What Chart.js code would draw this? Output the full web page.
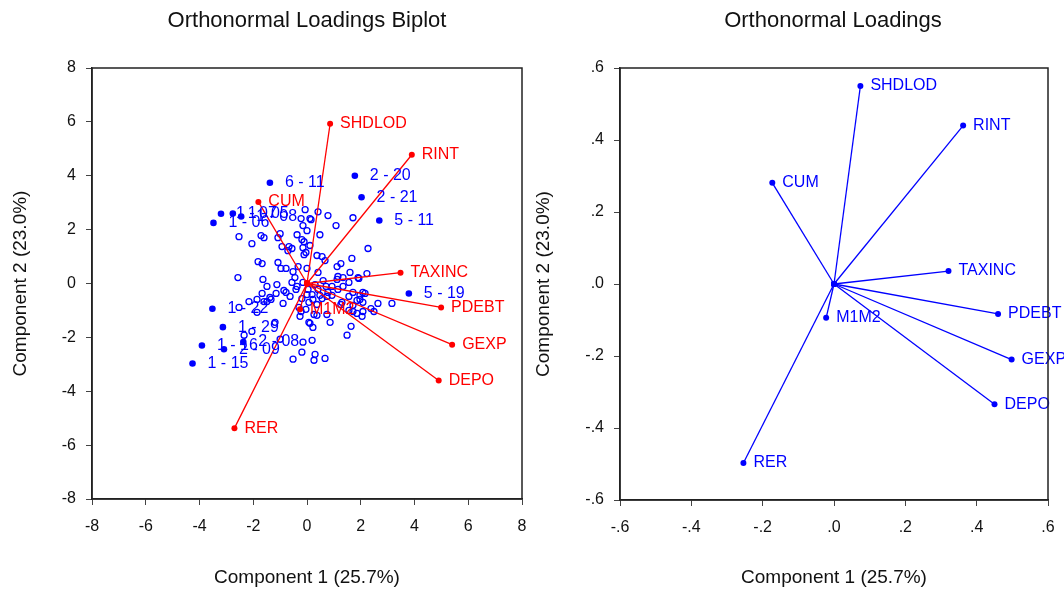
<!DOCTYPE html>
<html>
<head>
<meta charset="utf-8">
<script src="https://cdn.jsdelivr.net/npm/chart.js@4.4.1/dist/chart.umd.min.js"></script>
<style>
  body { margin: 0; background: #fff; font-family: "Liberation Sans", Arial, sans-serif; }
  #wrap { position: relative; width: 1064px; height: 592px; overflow: hidden; }
  canvas { position: absolute; top: 0; }
  .ttl { position: absolute; top: 7px; font-size: 22px; color: #111; transform: translateX(-50%); white-space: nowrap; }
</style>
</head>
<body>
<div id="wrap">
  <canvas id="biplot" width="532" height="592" style="left:0px"></canvas>
  <canvas id="loadings" width="532" height="592" style="left:532px"></canvas>
  <div class="ttl" style="left:307px">Orthonormal Loadings Biplot</div>
  <div class="ttl" style="left:833px">Orthonormal Loadings</div>
</div>
<script>
// observations (component scores), open circles
var obsX = [-0.07, 0.11, -0.22, -0.15, 0.00, -2.53, -1.71, -1.60, -1.00, -1.08, -0.37, -0.19, -0.11, -2.05, -0.93,
  -0.67, -0.56, -0.71, -0.15, -0.11, -0.04, -1.82, -1.67, -1.08, -0.97, -0.78, -0.33, 0.00, -0.52, -2.57,
  -1.64, 0.41, 0.78, 0.15, 1.08, 1.71, 0.48, 0.11, 2.27, 0.37, 0.56, 0.67, 1.67, 1.26, 1.12,
  1.60, 2.23, 0.41, 1.15, 1.34, 1.90, -0.45, -1.49, -1.12, -1.67, -1.38, -1.15, -0.86, -0.78, -0.37,
  -2.16, -1.86, -1.60, -1.49, -1.34, -0.89, -2.53, -1.86, -0.30, -0.22, -0.26, -1.19, -2.34, -2.05, -1.00,
  -0.52, -0.19, -0.15, 0.07, 1.12, 1.56, 1.93, 0.60, -0.15, 0.30, 0.04, 0.71, 0.93, 1.15, 1.34,
  0.41, 0.78, 1.71, 2.08, 2.16, 0.00, 0.19, 0.48, 0.74, 0.93, 1.56, 1.97, -0.19, 0.22, 0.56,
  1.97, 1.86, 2.08, 2.64, 3.16, 0.07, 0.37, 1.30, 1.26, 1.71, 1.56, 1.71, 1.86, 2.08, 2.38,
  2.49, 2.05, -0.04, 0.26, 0.37, 0.74, 0.86, 0.11, 0.22, 1.64, 1.49, 0.19, 0.30, 0.26, 0.67,
  -0.56, -0.41, -0.63];
var obsY = [2.74, 2.41, 2.41, 2.15, 1.96, 1.74, 1.78, 1.70, 1.85, 1.70, 1.81, 1.63, 1.55, 1.48, 1.37,
  1.37, 1.30, 1.22, 1.33, 1.07, 1.15, 0.81, 0.74, 0.78, 0.56, 0.56, 0.63, 0.56, 0.44, 0.22,
  0.15, 2.66, 2.52, 2.37, 2.15, 2.44, 1.81, 1.41, 1.30, 1.04, 1.00, 0.85, 0.93, 0.74, 0.63,
  0.41, 0.37, 0.41, 0.26, 0.22, 0.22, 0.22, -0.11, -0.04, -0.37, -0.52, -0.37, -0.26, -0.33, -0.11,
  -0.67, -0.59, -0.67, -0.67, -0.59, -0.74, -0.89, -1.07, -0.89, -1.04, -1.22, -1.44, -1.92, -1.78, -2.07,
  -2.81, -2.55, -2.18, -1.44, 0.15, 0.04, 0.19, 0.11, 0.04, -0.04, -0.22, -0.11, -0.11, -0.22, -0.11,
  -0.22, -0.33, -0.33, -0.33, -0.37, -0.41, -0.41, -0.44, -0.48, -0.44, -0.48, -0.44, -0.56, -0.59, -0.56,
  -0.59, -0.63, -0.70, -0.74, -0.74, -0.70, -0.78, -0.70, -0.78, -0.81, -1.00, -1.04, -1.11, -1.04, -0.93,
  -1.04, -1.22, -0.96, -1.15, -1.18, -1.15, -1.44, -1.48, -1.63, -1.59, -1.92, -2.11, -2.63, -2.85, -2.78,
  0.04, -0.22, -0.48];

// labelled observations, filled circles
var markNames = ['6 - 11', '2 - 20', '2 - 21', '5 - 11', '5 - 19', '1 - 07', '1 - 05', '1 - 08', '1 - 06',
  '1 - 22', '1 - 29', '1 - 16', '2 - 09', '1 - 15', '2 - 08'];
var markX = [-1.38, 1.78, 2.03, 2.69, 3.79, -3.20, -2.76, -2.45, -3.48, -3.52, -3.13, -3.91, -3.09, -4.26, -2.37];
var markY = [3.74, 4.00, 3.20, 2.34, -0.37, 2.59, 2.60, 2.49, 2.25, -0.94, -1.62, -2.30, -2.44, -2.97, -2.17];

// variables
var varNames = ['SHDLOD', 'RINT', 'CUM', 'TAXINC', 'PDEBT', 'GEXP', 'DEPO', 'RER', 'M1M2'];
var biplotX = [0.86, 3.90, -1.81, 3.48, 4.99, 5.40, 4.90, -2.70, -0.26];
var biplotY = [5.93, 4.78, 3.03, 0.40, -0.89, -2.27, -3.60, -5.37, -0.96];
var loadX = [0.074, 0.362, -0.173, 0.321, 0.460, 0.498, 0.450, -0.254, -0.022];
var loadY = [0.550, 0.440, 0.281, 0.036, -0.083, -0.210, -0.334, -0.497, -0.094];

var xTitle = 'Component 1 (25.7%)';
var yTitle = 'Component 2 (23.0%)';

var FONT = '"Liberation Sans", Arial, sans-serif';
var BLUE = '#0000ff';
var RED = '#ff0000';

// frame round the plot area
var framePlugin = {
  id: 'frame',
  afterDraw: function (chart) {
    var a = chart.chartArea, c = chart.ctx;
    c.save();
    c.strokeStyle = '#222';
    c.lineWidth = 1.5;
    c.strokeRect(a.left, a.top, a.right - a.left, a.bottom - a.top);
    c.restore();
  }
};

// text labels next to points
function labelPlugin(groups) {
  return {
    id: 'ptlabels',
    afterDatasetsDraw: function (chart) {
      var c = chart.ctx, sx = chart.scales.x, sy = chart.scales.y;
      c.save();
      c.font = '16px ' + FONT;
      c.textBaseline = 'middle';
      c.textAlign = 'left';
      groups.forEach(function (g) {
        c.fillStyle = g.color;
        g.names.forEach(function (n, i) {
          c.fillText(n, sx.getPixelForValue(g.x[i]) + g.dx, sy.getPixelForValue(g.y[i]));
        });
      });
      c.restore();
    }
  };
}

function axis(min, max, step, fmt, isY, yTitlePad, boxSize) {
  return {
    type: 'linear',
    min: min,
    max: max,
    position: isY ? 'left' : 'bottom',
    ticks: {
      stepSize: step,
      color: '#111',
      font: { family: FONT, size: 16 },
      padding: isY ? 10 : 12,
      maxRotation: 0,
      callback: fmt
    },
    grid: { drawOnChartArea: false, drawTicks: true, tickLength: 6, color: '#444', lineWidth: 1 },
    border: { display: true, color: '#222', width: 1.5 },
    title: {
      display: true,
      text: isY ? yTitle : xTitle,
      color: '#111',
      font: { family: FONT, size: 19 },
      padding: isY ? { top: yTitlePad, bottom: 0 } : { top: 0, bottom: 3 }
    },
    afterFit: function (s) {
      if (isY) {
        s.width = boxSize;
      } else {
        s.height = boxSize;
        s.paddingLeft = 0;
        s.paddingRight = 0;
      }
    }
  };
}

function vectorSets(xs, ys, color) {
  return varNames.map(function (n, i) {
    return {
      label: n,
      data: [{ x: 0, y: 0 }, { x: xs[i], y: ys[i] }],
      showLine: true,
      borderColor: color,
      backgroundColor: color,
      borderWidth: 1.3,
      pointRadius: 3,
      pointBorderWidth: 0,
      order: 1
    };
  });
}

var intFmt = function (v) { return String(Math.round(v)); };
var decFmt = function (v) {
  var r = Math.round(v * 10) / 10;
  return r.toFixed(1).replace('0.', '.');
};

var obsPoints = obsX.map(function (x, i) { return { x: x, y: obsY[i] }; });
var markPoints = markX.map(function (x, i) { return { x: x, y: markY[i] }; });

new Chart(document.getElementById('biplot'), {
  type: 'scatter',
  data: {
    datasets: [{
      label: 'obs',
      data: obsPoints,
      pointRadius: 3,
      pointBorderWidth: 1.3,
      pointBorderColor: BLUE,
      pointBackgroundColor: 'rgba(255,255,255,0)',
      order: 2
    }, {
      label: 'marked',
      data: markPoints,
      pointRadius: 3.3,
      pointBorderWidth: 0,
      pointBackgroundColor: BLUE,
      order: 2
    }].concat(vectorSets(biplotX, biplotY, RED))
  },
  options: {
    responsive: false,
    animation: false,
    devicePixelRatio: 1,
    layout: { padding: { top: 68, right: 10, left: 0, bottom: 0 } },
    plugins: { legend: { display: false }, tooltip: { enabled: false } },
    scales: {
      x: axis(-8, 8, 2, intFmt, false, 0, 93),
      y: axis(-8, 8, 2, intFmt, true, 9, 92)
    }
  },
  plugins: [framePlugin, labelPlugin([
    { names: varNames, x: biplotX, y: biplotY, color: RED, dx: 10 },
    { names: markNames, x: markX, y: markY, color: BLUE, dx: 15 }
  ])]
});

new Chart(document.getElementById('loadings'), {
  type: 'scatter',
  data: { datasets: vectorSets(loadX, loadY, BLUE) },
  options: {
    responsive: false,
    animation: false,
    devicePixelRatio: 1,
    layout: { padding: { top: 68, right: 16, left: 0, bottom: 0 } },
    plugins: { legend: { display: false }, tooltip: { enabled: false } },
    scales: {
      x: axis(-0.6, 0.6, 0.2, decFmt, false, 0, 92),
      y: axis(-0.6, 0.6, 0.2, decFmt, true, 0, 88)
    }
  },
  plugins: [framePlugin, labelPlugin([
    { names: varNames, x: loadX, y: loadY, color: BLUE, dx: 10 }
  ])]
});
</script>
</body>
</html>
